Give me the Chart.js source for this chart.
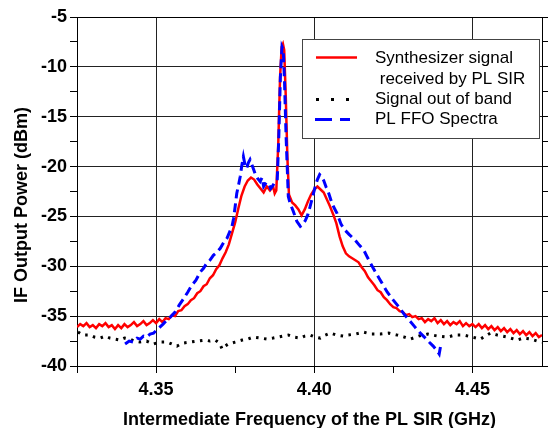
<!DOCTYPE html>
<html><head><meta charset="utf-8">
<script src="https://cdn.jsdelivr.net/npm/chart.js@4"></script>
<style>html,body{margin:0;background:#fff}#wrap{width:549px;height:428px}</style>
</head><body><div id="wrap"><canvas id="c"></canvas></div>
<script>
/* ===== data: [GHz, dBm] ===== */
const synthesizer=[[4.325,-36.1],[4.326,-35.8],[4.327,-36.0],[4.328,-35.7],[4.329,-36.1],[4.330,-35.9],[4.331,-36.2],[4.332,-35.8],[4.333,-36.0],[4.334,-35.7],
[4.335,-36.1],[4.336,-35.9],[4.337,-36.3],[4.338,-35.9],[4.339,-36.2],[4.340,-35.8],[4.341,-36.1],[4.342,-35.9],[4.343,-35.6],[4.344,-36.0],
[4.345,-35.8],[4.346,-35.5],[4.347,-35.9],[4.348,-35.7],[4.349,-35.4],[4.350,-35.7],[4.351,-35.3],[4.352,-35.6],[4.353,-35.2],[4.354,-35.3],
[4.355,-34.9],[4.356,-35.0],[4.357,-34.5],[4.358,-34.4],[4.359,-34.0],[4.360,-33.8],[4.361,-33.4],[4.362,-33.2],[4.363,-32.7],[4.364,-32.5],
[4.365,-32.0],[4.366,-31.8],[4.367,-31.2],[4.368,-30.9],[4.369,-30.3],[4.370,-29.9],[4.371,-29.2],[4.372,-28.6],[4.373,-27.8],[4.374,-26.7],
[4.375,-25.6],[4.376,-24.2],[4.377,-22.9],[4.378,-22.0],[4.379,-21.4],[4.380,-21.1],[4.381,-21.3],[4.382,-21.8],[4.383,-22.2],[4.384,-22.6],
[4.385,-22.0],[4.386,-22.4],[4.387,-22.0],[4.3875,-22.7],[4.388,-22.4],[4.3886,-18.0],[4.3892,-11.0],[4.3897,-8.0],[4.3901,-7.7],[4.3905,-8.3],
[4.3910,-13.0],[4.3915,-19.0],[4.3920,-22.8],[4.393,-23.6],[4.394,-23.9],[4.395,-24.3],[4.396,-24.9],[4.397,-24.3],[4.398,-23.5],[4.399,-22.8],
[4.400,-22.3],[4.401,-22.0],[4.402,-22.3],[4.403,-22.6],[4.404,-23.3],[4.405,-24.0],[4.406,-24.8],[4.407,-25.7],[4.408,-27.0],[4.409,-28.0],
[4.410,-28.7],[4.411,-29.0],[4.412,-29.2],[4.413,-29.4],[4.414,-29.6],[4.415,-30.1],[4.416,-30.5],[4.417,-31.1],[4.418,-31.5],[4.419,-31.9],
[4.420,-32.4],[4.421,-32.6],[4.422,-33.1],[4.423,-33.4],[4.424,-33.8],[4.425,-34.1],[4.426,-34.2],[4.427,-34.5],[4.428,-34.6],[4.429,-34.9],
[4.430,-34.8],[4.431,-35.1],[4.432,-35.0],[4.433,-35.3],[4.434,-35.2],[4.435,-35.6],[4.436,-35.3],[4.437,-35.5],[4.438,-35.2],[4.439,-35.7],
[4.440,-35.4],[4.441,-35.8],[4.442,-35.5],[4.443,-35.9],[4.444,-35.6],[4.445,-35.8],[4.446,-35.5],[4.447,-36.0],[4.448,-35.7],[4.449,-36.0],
[4.450,-35.8],[4.451,-36.1],[4.452,-35.8],[4.453,-36.2],[4.454,-35.9],[4.455,-36.3],[4.456,-36.0],[4.457,-36.4],[4.458,-36.1],[4.459,-36.5],
[4.460,-36.2],[4.461,-36.6],[4.462,-36.3],[4.463,-36.7],[4.464,-36.4],[4.465,-36.8],[4.466,-36.5],[4.467,-36.9],[4.468,-36.6],[4.469,-37.0],
[4.470,-36.7],[4.471,-37.1],[4.472,-36.9]];

const outOfBand=[[4.3253,-36.6],[4.3270,-36.9],[4.3291,-36.9],[4.3305,-37.1],[4.3323,-37.2],[4.3340,-37.0],[4.3354,-37.2],[4.3370,-37.3],[4.3386,-37.4],[4.3400,-37.2],
[4.3418,-37.3],[4.3432,-37.5],[4.3449,-37.6],[4.3470,-37.5],[4.3491,-37.8],[4.3510,-37.6],[4.3535,-37.6],[4.3550,-37.8],[4.3566,-38.0],[4.3585,-37.7],
[4.3608,-37.6],[4.3630,-37.5],[4.3655,-37.4],[4.3670,-37.5],[4.3687,-37.4],[4.3700,-37.7],[4.3709,-38.3],[4.3718,-38.0],[4.3728,-37.8],[4.3750,-37.6],
[4.3772,-37.4],[4.3790,-37.3],[4.3807,-37.1],[4.3830,-37.2],[4.3851,-37.3],[4.3870,-37.2],[4.3886,-37.1],[4.3900,-37.0],[4.3918,-36.9],[4.3935,-37.1],
[4.3956,-37.2],[4.3970,-37.0],[4.3987,-36.9],[4.4003,-37.1],[4.4019,-37.2],[4.4035,-36.9],[4.4051,-36.7],[4.4070,-36.9],[4.4092,-37.0],[4.4104,-36.9],
[4.4130,-36.8],[4.4155,-36.6],[4.4180,-36.8],[4.4209,-36.8],[4.4235,-36.7],[4.4263,-36.9],[4.4285,-37.1],[4.4304,-37.3],[4.4330,-37.0],[4.4358,-36.8],
[4.4390,-37.0],[4.4421,-37.1],[4.4445,-36.9],[4.4472,-36.9],[4.4500,-37.1],[4.4525,-37.3],[4.4557,-36.7],[4.4579,-36.9],[4.4610,-37.1],[4.4642,-37.4],
[4.4660,-37.2],[4.4684,-37.3],[4.4705,-37.5],[4.4722,-37.6]];

const ffoSpectra=[[4.3402,-37.8],[4.3415,-37.5],[4.3427,-37.6],[4.3440,-37.2],[4.3450,-37.3],[4.3460,-37.0],[4.3470,-37.1],[4.3481,-36.8],[4.3492,-36.7],[4.3502,-36.4],
[4.3512,-36.1],[4.3522,-35.8],[4.3534,-35.4],[4.3545,-35.1],[4.3560,-34.6],[4.3573,-33.9],[4.3586,-33.3],[4.3600,-32.6],[4.3613,-31.9],[4.3626,-31.4],
[4.3639,-30.6],[4.3650,-30.2],[4.3660,-29.7],[4.3670,-29.4],[4.3681,-28.9],[4.3692,-28.6],[4.3703,-28.2],[4.3714,-27.6],[4.3724,-27.2],[4.3732,-26.6],
[4.3740,-26.0],[4.3745,-25.2],[4.3750,-24.0],[4.3755,-22.7],[4.3761,-21.8],[4.3766,-21.0],[4.3771,-19.9],[4.3776,-19.0],[4.3781,-19.8],[4.3786,-20.2],
[4.3792,-19.6],[4.3797,-19.3],[4.3805,-20.0],[4.3813,-20.7],[4.3821,-21.2],[4.3829,-21.5],[4.3835,-21.1],[4.3840,-22.0],[4.3848,-21.6],[4.3856,-21.7],
[4.3862,-22.2],[4.3867,-22.0],[4.3875,-21.6],[4.3883,-21.4],[4.3888,-17.0],[4.3893,-11.0],[4.3898,-8.0],[4.3902,-8.3],[4.3906,-11.5],[4.3911,-17.0],
[4.3918,-23.0],[4.3924,-23.7],[4.3934,-24.5],[4.3945,-25.5],[4.3956,-26.0],[4.3964,-25.8],[4.3972,-25.4],[4.3980,-24.8],[4.3987,-24.0],[4.3995,-23.0],
[4.4003,-22.0],[4.4010,-21.3],[4.4017,-20.8],[4.4023,-21.0],[4.4030,-21.4],[4.4038,-22.1],[4.4046,-22.7],[4.4056,-23.7],[4.4064,-24.2],[4.4072,-24.7],
[4.4078,-25.2],[4.4085,-25.8],[4.4098,-26.4],[4.4110,-26.8],[4.4120,-27.1],[4.4130,-27.4],[4.4143,-27.9],[4.4157,-28.4],[4.4168,-29.1],[4.4178,-29.7],
[4.4192,-30.5],[4.4205,-31.2],[4.4218,-31.9],[4.4231,-32.6],[4.4250,-33.4],[4.4268,-34.1],[4.4284,-34.8],[4.4300,-35.4],[4.4316,-36.0],[4.4332,-36.6],
[4.4348,-37.1],[4.4363,-37.6],[4.4376,-38.0],[4.4389,-38.5],[4.4395,-38.8],[4.4400,-37.9]];

const xMajor=[4.35,4.40,4.45],xMinor=[4.325,4.375,4.425];
const yMajor=[-40,-35,-30,-25,-20,-15,-10,-5],yMinor=[-37.5,-32.5,-27.5,-22.5,-17.5,-12.5,-7.5];
const legendText=['Synthesizer signal',' received by PL SIR','Signal out of band','PL FFO Spectra'];
const X_MIN=4.325,X_MAX=4.472,Y_MIN=-40,Y_MAX=-5;

/* ===== helpers ===== */
const FAM='"Liberation Sans", Arial, sans-serif';
const boldFont={family:FAM,size:18,weight:'bold'};
const isIn=(v,arr)=>arr.some(m=>Math.abs(m-v)<1e-6);
const tickList=(a,b)=>[...a,...b].sort((p,q)=>p-q).map(v=>({value:v}));
const pts=a=>a.map(([x,y])=>({x,y}));

/* legend box + rotated y title drawn on top */
const decor={id:'decor',afterDraw(ch){
  const c=ch.ctx;c.save();
  c.fillStyle='#fff';c.strokeStyle='#444';c.lineWidth=1;
  c.fillRect(302.5,39.5,237,99);c.strokeRect(302.5,39.5,237,99);
  c.lineWidth=2.5;c.strokeStyle='#ff0000';c.beginPath();c.moveTo(316,57.5);c.lineTo(357,57.5);c.stroke();
  c.fillStyle='#000';[316,331,346].forEach(x=>c.fillRect(x,98,3,3));
  c.lineWidth=3;c.strokeStyle='#0000ff';c.beginPath();c.moveTo(315,119.5);c.lineTo(332,119.5);c.moveTo(340,119.5);c.lineTo(350,119.5);c.stroke();
  c.fillStyle='#000';c.font='17px '+FAM;c.textBaseline='middle';c.textAlign='left';
  [58,79,99,119].forEach((y,i)=>c.fillText(legendText[i],375,y));
  c.font='bold 18px '+FAM;c.textAlign='center';
  c.translate(22,205);c.rotate(-Math.PI/2);c.fillText('IF Output Power (dBm)',0,0);
  c.restore();
}};

new Chart(document.getElementById('c'),{
  type:'line',
  data:{datasets:[
    {data:pts(synthesizer),borderColor:'#ff0000',borderWidth:2.5,order:2},
    {data:pts(outOfBand),borderColor:'#000',borderWidth:3,borderDash:[2.5,5.5],order:1},
    {data:pts(ffoSpectra),borderColor:'#0000ff',borderWidth:3,borderDash:[9,5],order:0}
  ]},
  options:{
    responsive:true,maintainAspectRatio:false,animation:false,devicePixelRatio:1,
    layout:{padding:{top:17,left:0,right:0,bottom:0}},
    elements:{point:{radius:0},line:{tension:0,fill:false}},
    plugins:{legend:{display:false},tooltip:{enabled:false}},
    scales:{
      x:{type:'linear',min:X_MIN,max:X_MAX,
        afterBuildTicks:s=>{s.ticks=tickList(xMajor,xMinor)},
        afterFit:s=>{s.height=62},
        ticks:{color:'#000',font:boldFont,padding:6,maxRotation:0,autoSkip:false,
          callback:v=>isIn(v,xMajor)?v.toFixed(2):''},
        grid:{color:c=>c.tick&&isIn(c.tick.value,xMajor)?'#222':'rgba(0,0,0,0)',tickColor:'#000',tickLength:7},
        border:{color:'#000',width:1},
        title:{display:true,text:'Intermediate Frequency of the PL SIR (GHz)',color:'#000',font:boldFont,padding:{top:0,bottom:-3}}},
      x2:{type:'linear',position:'top',min:X_MIN,max:X_MAX,
        afterFit:s=>{s.height=0},ticks:{display:false},grid:{display:false},border:{color:'#000',width:1}},
      y:{min:Y_MIN,max:Y_MAX,
        afterBuildTicks:s=>{s.ticks=tickList(yMajor,yMinor)},
        afterFit:s=>{s.width=77},
        ticks:{color:'#000',font:boldFont,padding:3,autoSkip:false,
          callback:v=>isIn(v,yMajor)?String(v):''},
        grid:{color:c=>c.tick&&isIn(c.tick.value,yMajor)?'#222':'rgba(0,0,0,0)',tickColor:'#000',tickLength:7},
        border:{color:'#000',width:1}},
      y2:{position:'right',min:Y_MIN,max:Y_MAX,
        afterBuildTicks:s=>{s.ticks=tickList(yMajor,yMinor)},
        afterFit:s=>{s.width=7},
        ticks:{display:false},
        grid:{drawOnChartArea:false,color:'#000',tickLength:6},
        border:{color:'#000',width:1}}
    }
  },
  plugins:[decor]
});
</script></body></html>
